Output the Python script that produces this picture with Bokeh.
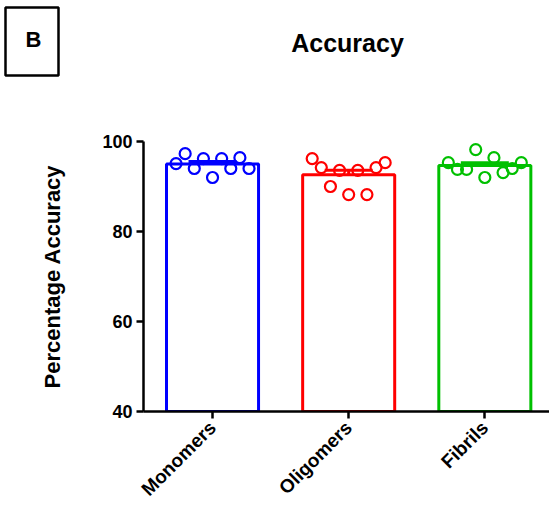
import numpy as np
from bokeh.plotting import figure
from bokeh.layouts import column
from bokeh.models import (ColumnDataSource, FixedTicker, Range1d,
                          Whisker, TeeHead)
from bokeh.core.properties import value
from bokeh.embed import file_html
from bokeh.resources import INLINE

categories = ["Monomers", "Oligomers", "Fibrils"]
colors = ["#0000FF", "#FF0000", "#00C000"]
monomers = [95.1, 97.3, 94.0, 96.2, 92.0, 96.2, 94.0, 96.4, 94.0]
oligomers = [96.2, 94.2, 90.0, 93.6, 88.2, 93.6, 88.2, 94.2, 95.3]
fibrils = [95.3, 93.8, 93.8, 98.2, 92.0, 96.4, 93.1, 94.0, 95.3]
series = [monomers, oligomers, fibrils]
y_ticks = [40, 60, 80, 100]
title_text = "Accuracy"
panel_text = "B"

FONT = "Liberation Sans"
W = 549
HEAD_H = 126

# ---- header (title + panel letter) ----
head = figure(width=W, height=HEAD_H, output_backend="svg",
              toolbar_location=None, x_axis_type=None, y_axis_type=None,
              x_range=Range1d(0, W), y_range=Range1d(HEAD_H, 0),
              min_border=0)
head.outline_line_color = None
head.xgrid.visible = False
head.ygrid.visible = False
head.text(x=[347], y=[42], text=[title_text], text_font=value(FONT),
          text_font_style="bold", text_font_size="25px", text_align="center",
          text_baseline="middle", text_color="black")
head.quad(left=[5], right=[58], top=[7], bottom=[75], fill_color=None,
          line_color="black", line_width=2.5)
head.text(x=[33], y=[39], text=[panel_text], text_font=value(FONT),
          text_font_style="bold", text_font_size="22px", text_align="center",
          text_baseline="middle", text_color="black")

# ---- main chart ----
p = figure(width=W, height=510 - HEAD_H, output_backend="svg",
           toolbar_location=None,
           x_range=Range1d(-0.507, 2.475), y_range=Range1d(40, 100),
           min_border_left=143, min_border_right=0, min_border_top=15,
           min_border_bottom=99)
p.outline_line_color = None
p.xgrid.visible = False
p.ygrid.visible = False

for fig in (head, p):
    try:
        fig.frame_align = False
    except Exception:
        pass

xs = list(range(len(categories)))
means = [float(np.mean(s)) for s in series]
sems = [float(np.std(s, ddof=1) / np.sqrt(len(s))) for s in series]

bar_src = ColumnDataSource(dict(x=xs, top=means, color=colors))
p.vbar(x="x", top="top", bottom=40, width=0.676, source=bar_src,
       fill_color="white", line_color="color", line_width=3)

spacing = 0.067
for i, (vals, c) in enumerate(zip(series, colors)):
    n = len(vals)
    px = [i + (k - (n - 1) / 2) * spacing for k in range(n)]
    p.scatter(px, vals, size=11, marker="circle", fill_color=None,
              line_color=c, line_width=2.2)

err_src = ColumnDataSource(dict(
    x=xs,
    upper=[m + s for m, s in zip(means, sems)],
    lower=[m - s for m, s in zip(means, sems)],
    color=colors))
w = Whisker(base="x", upper="upper", lower="lower", source=err_src,
            line_color="color", line_width=3,
            upper_head=TeeHead(size=48, line_width=3, line_color="color"),
            lower_head=TeeHead(size=48, line_width=3, line_color="color"))
p.add_layout(w)

for ax in (p.xaxis, p.yaxis):
    ax.axis_line_width = 2.5
    ax.axis_line_color = "black"
    ax.major_tick_line_width = 2.5
    ax.major_tick_line_color = "black"
    ax.major_tick_out = 7
    ax.major_tick_in = 0
    ax.minor_tick_line_color = None
    ax.major_label_text_font = FONT
    ax.major_label_text_font_style = "bold"
    ax.major_label_text_color = "black"

p.yaxis.ticker = FixedTicker(ticks=y_ticks)
p.yaxis.major_label_text_font_size = "18px"
p.yaxis.major_label_standoff = 4
p.yaxis.axis_label = "Percentage Accuracy"
p.yaxis.axis_label_text_font = FONT
p.yaxis.axis_label_text_font_style = "bold"
p.yaxis.axis_label_text_font_size = "22px"
p.yaxis.axis_label_text_color = "black"
p.yaxis.axis_label_standoff = 34

p.xaxis.ticker = FixedTicker(ticks=xs)
p.xaxis.major_label_overrides = {i: c for i, c in enumerate(categories)}
p.xaxis.major_label_orientation = np.pi / 4
p.xaxis.major_label_text_font_size = "19px"
p.xaxis.major_label_standoff = 6

layout = column(head, p, spacing=0)
open("out.html", "w").write(file_html(layout, INLINE))
